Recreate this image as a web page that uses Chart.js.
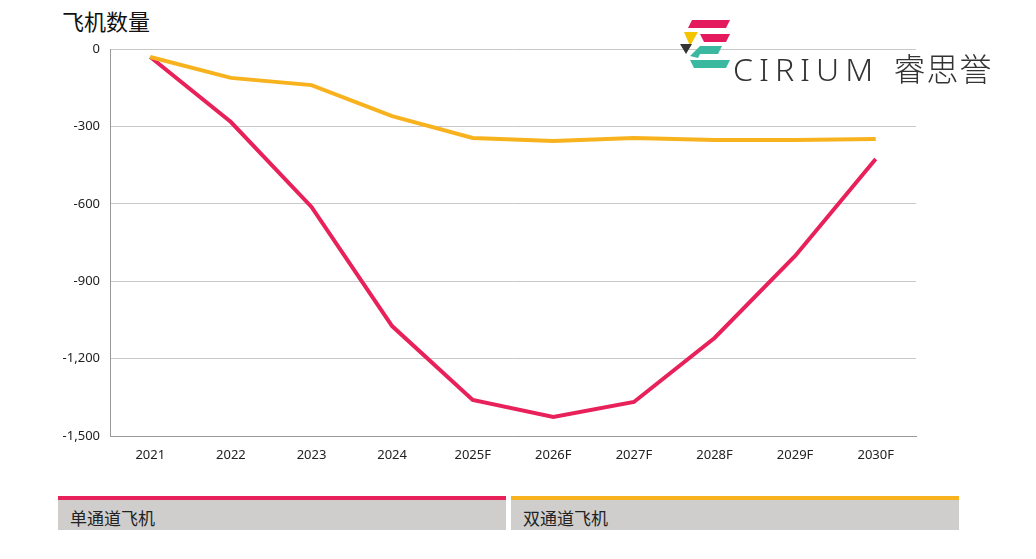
<!DOCTYPE html>
<html><head><meta charset="utf-8">
<script src="https://cdn.jsdelivr.net/npm/chart.js@4"></script>
<style>
body{margin:0;background:#fff;font-family:"Noto Sans CJK SC","Noto Sans",sans-serif;}
#wrap{position:absolute;left:0;top:0;width:1036px;height:470px;}
.title{position:absolute;left:62px;top:4px;font-size:22px;color:#111;}
.leg{position:absolute;top:496px;height:34px;background:#cfcecd;font-size:17px;color:#222;box-sizing:border-box;padding:5px 0 0 12px;}
.logo{position:absolute;left:733px;top:44px;font-family:"Noto Sans","DejaVu Sans",sans-serif;font-size:32px;letter-spacing:6px;color:#333;font-weight:300;}
</style></head><body>
<div class="title">飞机数量</div>
<div id="wrap"><canvas id="c"></canvas></div>
<svg style="position:absolute;left:678px;top:18px" width="60" height="52">
<polygon points="14,2 52,2 48,10 10,10" fill="#e5195e"/>
<polygon points="6,14 20,14 12,28" fill="#f5c400"/>
<polygon points="22,16 52,16 48,24 26,24" fill="#e5195e"/>
<polygon points="2,26 14,26 8,36" fill="#333"/>
<polygon points="12,38 22,28 44,28 40,36 22,36 20,40" fill="#3bb8a0"/>
<polygon points="12,42 52,42 48,50 16,50" fill="#3bb8a0"/>
</svg>
<div class="logo">CIRIUM <span style="letter-spacing:1px;font-family:'Noto Sans CJK SC'">睿思誉</span></div>
<div class="leg" style="left:58px;width:448px;border-top:4px solid #e8215a">单通道飞机</div>
<div class="leg" style="left:511px;width:448px;border-top:4px solid #f7b21e">双通道飞机</div>
<script>
const categories=["2021","2022","2023","2024","2025F","2026F","2027F","2028F","2029F","2030F"];
const singleAisle=[-31,-283,-612,-1074,-1360,-1426,-1368,-1120,-802,-426];
const twinAisle=[-31,-112,-140,-260,-345,-357,-345,-353,-353,-349];
const seriesNames=["单通道飞机","双通道飞机"];
new Chart(document.getElementById('c'),{type:'line',
data:{labels:categories,datasets:[
{label:seriesNames[1],data:twinAisle,borderColor:'#f7b21e',borderWidth:4,pointRadius:0,tension:0},
{label:seriesNames[0],data:singleAisle,borderColor:'#e8215a',borderWidth:4,pointRadius:0,tension:0}]},
options:{responsive:true,maintainAspectRatio:false,animation:false,
layout:{padding:{left:50,top:49,right:120,bottom:0}},
plugins:{legend:{display:false},tooltip:{enabled:false}},
scales:{
x:{offset:true,grid:{display:false},border:{color:'#999'},ticks:{color:'#222',font:{size:13,family:'Noto Sans'},padding:3},afterFit:s=>{s.height=34;}},
y:{min:-1500,max:0,ticks:{stepSize:300,color:'#222',font:{size:13,family:'Noto Sans'},padding:10},grid:{color:'#c8c8c8',drawTicks:false},border:{color:'#999'},afterFit:s=>{s.width=60;}}
}}});
</script>
</body></html>
